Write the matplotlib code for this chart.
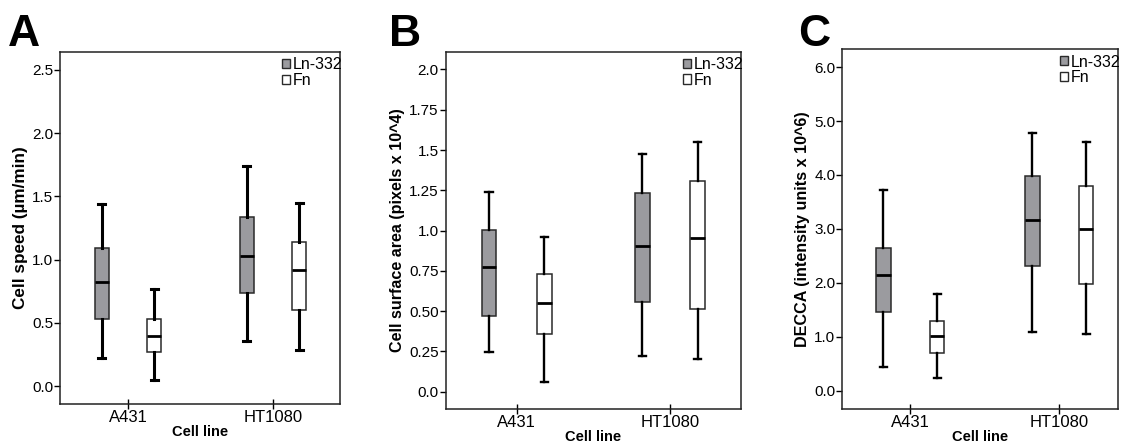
import matplotlib
matplotlib.use("Agg")
import matplotlib.pyplot as plt
import matplotlib.transforms as mtransforms
from matplotlib.patches import Patch

plt.rcParams['font.family'] = ['Liberation Sans', 'DejaVu Sans']

cell_lines = ["A431", "HT1080"]
substrates = ["Ln-332", "Fn"]

# five-number summaries: [whisker low, Q1, median, Q3, whisker high]
speed_ln332 = [[0.22, 0.535, 0.825, 1.09, 1.44], [0.36, 0.74, 1.03, 1.34, 1.74]]
speed_fn = [[0.047, 0.27, 0.40, 0.53, 0.77], [0.29, 0.60, 0.92, 1.14, 1.45]]

area_ln332 = [[0.248, 0.472, 0.773, 1.002, 1.24], [0.222, 0.555, 0.905, 1.236, 1.478]]
area_fn = [[0.058, 0.356, 0.553, 0.729, 0.961], [0.205, 0.516, 0.955, 1.309, 1.551]]

decca_ln332 = [[0.44, 1.466, 2.14, 2.65, 3.72], [1.09, 2.32, 3.16, 3.98, 4.78]]
decca_fn = [[0.24, 0.69, 1.02, 1.29, 1.79], [1.06, 1.97, 2.99, 3.79, 4.62]]

speed_ticks = [0.0, 0.5, 1.0, 1.5, 2.0, 2.5]
speed_ticklabels = ["0.0", "0.5", "1.0", "1.5", "2.0", "2.5"]
area_ticks = [0.0, 0.25, 0.5, 0.75, 1.0, 1.25, 1.5, 1.75, 2.0]
area_ticklabels = ["0.0", "0.25", "0.50", "0.75", "1.0", "1.25", "1.5", "1.75", "2.0"]
decca_ticks = [0.0, 1.0, 2.0, 3.0, 4.0, 5.0, 6.0]
decca_ticklabels = ["0.0", "1.0", "2.0", "3.0", "4.0", "5.0", "6.0"]

ylabels = ["Cell speed (\u00b5m/min)", "Cell surface area (pixels x 10^4)",
           "DECCA (intensity units x 10^6)"]
panel_letters = ["A", "B", "C"]

GRAY = "#9b9b9f"
EDGE = "#2a2a2a"

fig = plt.figure(figsize=(11.3, 4.48), dpi=100)

specs = [
    dict(rect=[0.0531, 0.0982, 0.2478, 0.7857], data=(speed_ln332, speed_fn),
         ylim=(-0.14, 2.64), xlim=(-0.469, 1.462), ticks=speed_ticks,
         tl=speed_ticklabels, lw=2.2, letter_x=8, ylfs=12.3),
    dict(rect=[0.3944, 0.0871, 0.2613, 0.7975], data=(area_ln332, area_fn),
         ylim=(-0.107, 2.11), xlim=(-0.463, 1.463), ticks=area_ticks,
         tl=area_ticklabels, lw=1.7, letter_x=389, ylfs=11.6),
    dict(rect=[0.7454, 0.0877, 0.2442, 0.8022], data=(decca_ln332, decca_fn),
         ylim=(-0.334, 6.33), xlim=(-0.456, 1.396), ticks=decca_ticks,
         tl=decca_ticklabels, lw=1.7, letter_x=798, ylfs=11.6),
]

offset = 0.18
width = 0.095

for i, sp in enumerate(specs):
    ax = fig.add_axes(sp["rect"])
    ln, fn = sp["data"]
    for series, sign, color in ((ln, -1, GRAY), (fn, 1, "white")):
        stats = []
        for j, v in enumerate(series):
            stats.append(dict(whislo=v[0], q1=v[1], med=v[2], q3=v[3], whishi=v[4], fliers=[]))
        pos = [j + sign * offset for j in range(len(series))]
        ax.bxp(stats, positions=pos, widths=width, showfliers=False,
               patch_artist=True, manage_ticks=False,
               boxprops=dict(facecolor=color, edgecolor=EDGE, linewidth=1.1),
               medianprops=dict(color="black", linewidth=2.0, solid_capstyle="butt"),
               whiskerprops=dict(color="black", linewidth=sp["lw"]),
               capprops=dict(color="black", linewidth=sp["lw"]),
               capwidths=width * 0.5)
    ax.set_xlim(*sp["xlim"])
    ax.set_ylim(*sp["ylim"])
    ax.set_yticks(sp["ticks"])
    ax.set_yticklabels(sp["tl"], fontsize=11)
    ax.set_xticks(range(len(cell_lines)))
    ax.set_xticklabels(cell_lines, fontsize=12)
    for lab in ax.get_xticklabels():
        lab.set_transform(lab.get_transform() +
                          mtransforms.ScaledTranslation(9 / 100, 0, fig.dpi_scale_trans))
    ax.tick_params(axis="y", direction="out", length=4, width=1, pad=1)
    ax.tick_params(axis="x", direction="inout", length=7, width=1, pad=1)
    for s in ax.spines.values():
        s.set_linewidth(1.1)
        s.set_color("#222222")
    ax.set_xlabel("Cell line", fontsize=10.5, fontweight="bold", labelpad=0)
    ax.set_ylabel(ylabels[i], fontsize=sp["ylfs"], fontweight="bold", labelpad=3)
    handles = [Patch(facecolor=GRAY, edgecolor=EDGE, linewidth=1.0),
               Patch(facecolor="white", edgecolor=EDGE, linewidth=1.0)]
    ax.legend(handles, substrates, loc="upper right", bbox_to_anchor=(1.015, 0.99),
              frameon=False, fontsize=11.5, handlelength=0.5, handleheight=0.5,
              handletextpad=0.2, labelspacing=0.05, borderaxespad=0, borderpad=0.1)
    fig.text(sp["letter_x"] / 1130, 1 - 46 / 448, panel_letters[i], fontsize=32,
             fontweight="bold", ha="left", va="baseline")

fig.savefig("out.png", dpi=100)
